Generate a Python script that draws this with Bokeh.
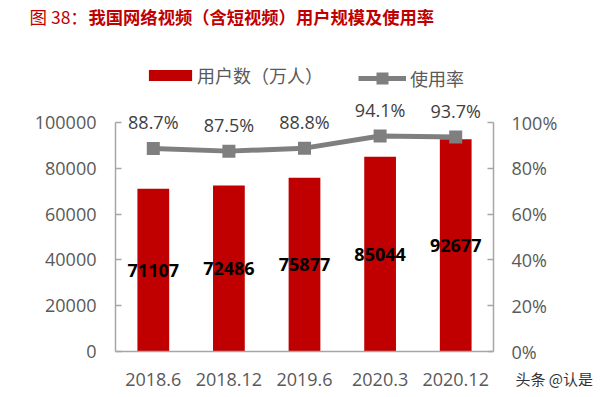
from bokeh.plotting import figure
from bokeh.models import (ColumnDataSource, Range1d, LinearAxis, Legend, LegendItem,
                          Label, FactorRange, NumeralTickFormatter, FixedTicker, LabelSet)
from bokeh.embed import file_html
from bokeh.resources import INLINE
from bokeh.core.properties import value

categories = ["2018.6", "2018.12", "2019.6", "2020.3", "2020.12"]
users = [71107, 72486, 75877, 85044, 92677]
usage_rate = [0.887, 0.875, 0.888, 0.941, 0.937]
usage_labels = ["88.7%", "87.5%", "88.8%", "94.1%", "93.7%"]
user_labels = [str(v) for v in users]

RED = "#c00000"
GRAY = "#7f7f7f"
AXIS = "#a6a6a6"
TXT = "#595959"
FONT = "Open Sans"
CJK = "Noto Sans CJK SC"

src = ColumnDataSource(dict(
    cat=categories, users=users, half=[u / 2 for u in users],
    rate=usage_rate, rlab=usage_labels, ulab=user_labels,
))

W, H = 608, 397
# plot frame fills the whole canvas; axes are pinned inside it
Y0, Y1 = -20087, 153275
p = figure(width=W, height=H,
           x_range=FactorRange(*categories, range_padding=0.6084, range_padding_units="percent"),
           y_range=Range1d(Y0, Y1), output_backend="svg", toolbar_location=None,
           min_border=0, min_border_left=0, min_border_right=0,
           min_border_top=0, min_border_bottom=0)
p.title.visible = False
p.outline_line_color = None
p.grid.grid_line_color = None
p.background_fill_color = "white"
p.border_fill_color = "white"
p.x_range.factor_padding = 0

p.extra_y_ranges = {"pct": Range1d(Y0 / 100000, Y1 / 100000)}

bars = p.vbar(x="cat", top="users", width=0.42, source=src, fill_color=RED, line_color=None)
line = p.line(x="cat", y="rate", source=src, y_range_name="pct", line_color=GRAY, line_width=5)
marks = p.scatter(x="cat", y="rate", source=src, y_range_name="pct", marker="square",
                  size=13, fill_color=GRAY, line_color=None)

p.add_layout(LabelSet(x="cat", y="half", text="ulab", source=src, text_align="center",
                      text_baseline="middle", text_font=value(FONT), text_font_size="18px",
                      text_font_style="bold", text_color="black"))
p.add_layout(LabelSet(x="cat", y="rate", text="rlab", source=src, y_range_name="pct",
                      y_offset=26, text_align="center", text_baseline="middle",
                      text_font=value(FONT), text_font_size="18px", text_color="#404040"))

def style_axis(ax, ticks=True):
    ax.axis_line_color = AXIS
    ax.axis_line_width = 1.5
    ax.minor_tick_line_color = None
    if ticks:
        ax.major_tick_line_color = AXIS
        ax.major_tick_line_width = 1.5
        ax.major_tick_in = 6
        ax.major_tick_out = 0
    else:
        ax.major_tick_line_color = None
    ax.major_label_text_font = FONT
    ax.major_label_text_font_size = "18px"
    ax.major_label_text_color = TXT

xa = p.xaxis[0]
style_axis(xa, ticks=False)
xa.fixed_location = 0
xa.bounds = (0, len(categories))
xa.major_label_standoff = 15

ya = p.yaxis[0]
ya.ticker = FixedTicker(ticks=[0, 20000, 40000, 60000, 80000, 100000])
ya.formatter = NumeralTickFormatter(format="0")
ya.bounds = (0, 100000)
ya.fixed_location = 0
style_axis(ya)
ya.major_label_standoff = 19

ra = LinearAxis(y_range_name="pct", ticker=FixedTicker(ticks=[0, 0.2, 0.4, 0.6, 0.8, 1.0]),
                formatter=NumeralTickFormatter(format="0%"), bounds=(0, 1),
                fixed_location=len(categories))
style_axis(ra)
ra.major_label_standoff = 18
p.add_layout(ra, "right")

def style_legend(lg):
    lg.border_line_color = None
    lg.background_fill_alpha = 0
    lg.padding = 0
    lg.margin = 0
    lg.spacing = 0
    lg.label_text_font = CJK
    lg.label_text_font_size = "18px"
    lg.label_text_color = TXT
    lg.label_height = 20

lg1 = Legend(items=[LegendItem(label="用户数（万人）", renderers=[bars])],
             location=(143, 309), orientation="horizontal", glyph_width=54, glyph_height=14,
             label_standoff=0)
style_legend(lg1)
lg2 = Legend(items=[LegendItem(label="使用率", renderers=[line, marks])],
             location=(358, 304), orientation="horizontal", glyph_width=48, glyph_height=30,
             label_standoff=4)
style_legend(lg2)
p.add_layout(lg1)
p.add_layout(lg2)

# title and watermark (screen units, frame == canvas)
p.add_layout(Label(x=29, y=381, x_units="screen", y_units="screen", text="图 38：",
                   text_font=CJK, text_font_size="17.5px", text_color=RED,
                   text_baseline="middle"))
p.add_layout(Label(x=88, y=381, x_units="screen", y_units="screen",
                   text="我国网络视频（含短视频）用户规模及使用率",
                   text_font=CJK, text_font_size="17.3px", text_font_style="bold",
                   text_color=RED, text_baseline="middle"))
p.add_layout(Label(x=515, y=19, x_units="screen", y_units="screen", text="头条 @认是",
                   text_font=CJK, text_font_size="15px", text_color="#333333",
                   text_baseline="middle"))

open("out.html", "w").write(file_html(p, INLINE))
